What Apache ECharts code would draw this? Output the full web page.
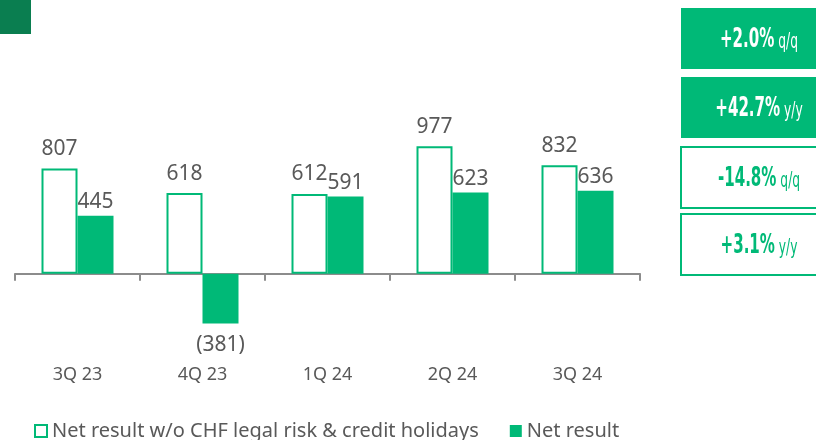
<!doctype html>
<html>
<head>
<meta charset="utf-8">
<title>Net result</title>
<script src="https://cdn.jsdelivr.net/npm/echarts@6/dist/echarts.min.js"></script>
<style>
  html, body { margin: 0; padding: 0; background: #fff; }
  #chart { width: 816px; height: 440px; }
</style>
</head>
<body>
<div id="chart"></div>
<script type="text/javascript">
  var categories = ['3Q 23', '4Q 23', '1Q 24', '2Q 24', '3Q 24'];
  var adjustedResult = [807, 618, 612, 977, 832];
  var netResult = [445, -381, 591, 623, 636];
  var kpiValues = ['+2.0%', '+42.7%', '-14.8%', '+3.1%'];
  var kpiUnits = ['q/q', 'y/y', 'q/q', 'y/y'];
  var kpiFilled = [true, true, false, false];

  var green = '#00b977';
  var grey = '#595959';
  var font = 'Noto Sans';

  // format negatives in brackets
  function fmt(p) {
    return p.value < 0 ? '(' + Math.abs(p.value) + ')' : '' + p.value;
  }
  function withPos(arr) {
    return arr.map(function (v) {
      return v < 0 ? { value: v, label: { position: 'bottom', distance: 11 } } : v;
    });
  }

  // kpi boxes on the right
  var boxTops = [8, 77, 147, 214];
  var graphics = [{
    type: 'rect',
    shape: { x: 0, y: 0, width: 31, height: 34 },
    style: { fill: '#0a7e50' }
  }];
  kpiValues.forEach(function (v, i) {
    var c = kpiFilled[i] ? '#fff' : green;
    graphics.push({
      type: 'rect',
      shape: { x: 681, y: boxTops[i], width: 140, height: 61 },
      style: kpiFilled[i] ? { fill: green } : { fill: '#fff', stroke: green, lineWidth: 2 }
    });
    graphics.push({
      type: 'text',
      x: 759, y: boxTops[i] + 32,
      scaleX: 0.62,
      style: {
        text: '{a|' + v + '}{b| ' + kpiUnits[i] + '}',
        align: 'center', verticalAlign: 'middle',
        fill: c,
        rich: {
          a: { fontFamily: 'DejaVu Sans Condensed', fontWeight: 'bold', fontSize: 27, fill: c },
          b: { fontFamily: 'DejaVu Sans Condensed', fontSize: 22, fill: c, padding: [5, 0, 0, 0] }
        }
      }
    });
  });

  var chart = echarts.init(document.getElementById('chart'));
  var option = {
    animation: false,
    textStyle: { fontFamily: font },
    grid: { left: 15, right: 176, top: 78, height: 261, outerBoundsMode: 'none' },
    legend: {
      left: 29, top: 416,
      itemWidth: 12, itemHeight: 12, itemGap: 31,
      icon: 'rect',
      textStyle: { fontSize: 20, color: grey, fontFamily: font },
      data: ['Net result w/o CHF legal risk & credit holidays', 'Net result']
    },
    xAxis: {
      type: 'category',
      data: categories,
      axisLine: { onZero: true, lineStyle: { color: '#8c8c8c', width: 2 } },
      axisTick: { show: true, length: 7, lineStyle: { color: '#8c8c8c', width: 2 } },
      axisLabel: { margin: 27, fontSize: 18, color: grey }
    },
    yAxis: {
      type: 'value',
      min: -500, max: 1500,
      show: false,
      splitLine: { show: false }
    },
    series: [{
      name: 'Net result w/o CHF legal risk & credit holidays',
      type: 'bar',
      barWidth: 36,
      barGap: '0%',
      data: withPos(adjustedResult),
      itemStyle: { color: '#fff', borderColor: green, borderWidth: 2 },
      label: { show: true, position: 'top', distance: 9, fontSize: 21, color: grey, formatter: fmt }
    }, {
      name: 'Net result',
      type: 'bar',
      barWidth: 36,
      data: withPos(netResult),
      itemStyle: { color: green },
      label: { show: true, position: 'top', distance: 3, fontSize: 21, color: grey, formatter: fmt }
    }],
    graphic: graphics
  };
  chart.setOption(option);
</script>
</body>
</html>
